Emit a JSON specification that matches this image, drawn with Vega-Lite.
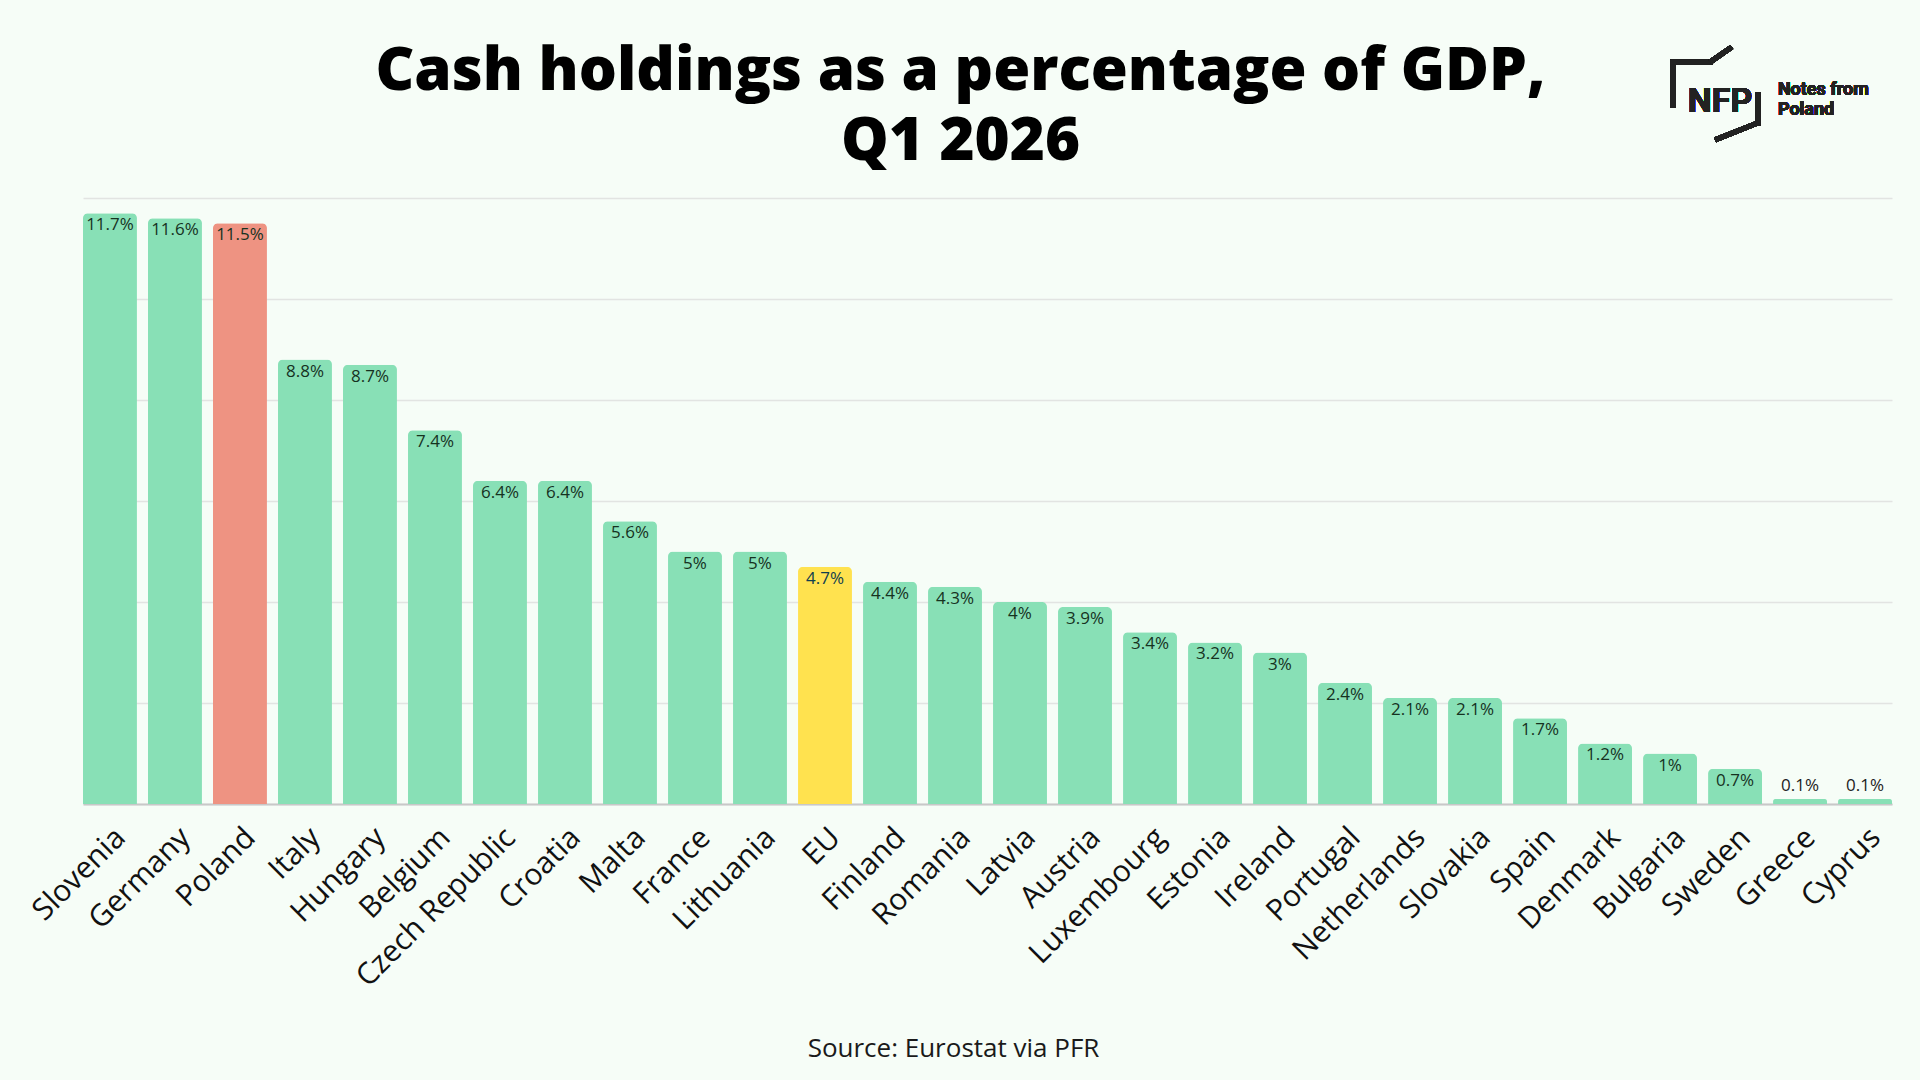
{
  "$schema": "https://vega.github.io/schema/vega-lite/v6.json",
  "width": 1809,
  "height": 606,
  "autosize": {"type": "none"},
  "padding": {"left": 83, "top": 198, "right": 28, "bottom": 276},
  "background": "#f6fdf7",
  "config": {"view": {"stroke": null}, "font": "Open Sans"},
  "title": {
    "text": ["Cash holdings as a percentage of GDP,", "Q1 2026"],
    "font": "Open Sans",
    "fontWeight": 800,
    "fontSize": 60,
    "lineHeight": 70,
    "color": "#000000",
    "anchor": "middle",
    "frame": "group",
    "dx": -27,
    "offset": -128
  },
  "data": {
    "values": [
      {"country": "Slovenia", "value": 11.7, "label": "11.7%", "group": "Other"},
      {"country": "Germany", "value": 11.6, "label": "11.6%", "group": "Other"},
      {"country": "Poland", "value": 11.5, "label": "11.5%", "group": "Poland"},
      {"country": "Italy", "value": 8.8, "label": "8.8%", "group": "Other"},
      {"country": "Hungary", "value": 8.7, "label": "8.7%", "group": "Other"},
      {"country": "Belgium", "value": 7.4, "label": "7.4%", "group": "Other"},
      {"country": "Czech Republic", "value": 6.4, "label": "6.4%", "group": "Other"},
      {"country": "Croatia", "value": 6.4, "label": "6.4%", "group": "Other"},
      {"country": "Malta", "value": 5.6, "label": "5.6%", "group": "Other"},
      {"country": "France", "value": 5, "label": "5%", "group": "Other"},
      {"country": "Lithuania", "value": 5, "label": "5%", "group": "Other"},
      {"country": "EU", "value": 4.7, "label": "4.7%", "group": "EU"},
      {"country": "Finland", "value": 4.4, "label": "4.4%", "group": "Other"},
      {"country": "Romania", "value": 4.3, "label": "4.3%", "group": "Other"},
      {"country": "Latvia", "value": 4, "label": "4%", "group": "Other"},
      {"country": "Austria", "value": 3.9, "label": "3.9%", "group": "Other"},
      {"country": "Luxembourg", "value": 3.4, "label": "3.4%", "group": "Other"},
      {"country": "Estonia", "value": 3.2, "label": "3.2%", "group": "Other"},
      {"country": "Ireland", "value": 3, "label": "3%", "group": "Other"},
      {"country": "Portugal", "value": 2.4, "label": "2.4%", "group": "Other"},
      {"country": "Netherlands", "value": 2.1, "label": "2.1%", "group": "Other"},
      {"country": "Slovakia", "value": 2.1, "label": "2.1%", "group": "Other"},
      {"country": "Spain", "value": 1.7, "label": "1.7%", "group": "Other"},
      {"country": "Denmark", "value": 1.2, "label": "1.2%", "group": "Other"},
      {"country": "Bulgaria", "value": 1, "label": "1%", "group": "Other"},
      {"country": "Sweden", "value": 0.7, "label": "0.7%", "group": "Other"},
      {"country": "Greece", "value": 0.1, "label": "0.1%", "group": "Other"},
      {"country": "Cyprus", "value": 0.1, "label": "0.1%", "group": "Other"}
    ]
  },
  "encoding": {
    "x": {
      "field": "country",
      "type": "nominal",
      "sort": null,
      "scale": {"paddingInner": 0.17, "paddingOuter": 0},
      "axis": {
        "title": "Source: Eurostat via PFR",
        "titleFont": "Open Sans",
        "titleFontSize": 26,
        "titleFontWeight": "normal",
        "titleColor": "#1a1a1a",
        "titleX": 870,
        "titlePadding": 44,
        "labelAngle": -45,
        "labelFont": "Open Sans",
        "labelFontSize": 30,
        "labelColor": "#111111",
        "labelPadding": 18,
        "labelLimit": 0,
        "ticks": false,
        "domainColor": "#c8c8c8",
        "domainWidth": 2,
        "grid": false
      }
    }
  },
  "layer": [
    {
      "mark": {"type": "bar", "cornerRadiusTopLeft": 5, "cornerRadiusTopRight": 5},
      "encoding": {
        "y": {
          "field": "value",
          "type": "quantitative",
          "scale": {"domain": [0, 12], "nice": false},
          "axis": {
            "title": null,
            "labels": false,
            "ticks": false,
            "domain": false,
            "grid": true,
            "gridColor": "#e2e4e2",
            "gridWidth": 1.5,
            "values": [0, 2, 4, 6, 8, 10, 12]
          }
        },
        "color": {
          "field": "group",
          "type": "nominal",
          "scale": {"domain": ["Other", "Poland", "EU"], "range": ["#88e0b6", "#ee9382", "#ffe24f"]},
          "legend": null
        }
      }
    },
    {
      "transform": [{"filter": "datum.value >= 0.5"}],
      "mark": {"type": "text", "baseline": "top", "dy": 4, "fontSize": 17, "font": "Open Sans"},
      "encoding": {
        "y": {"field": "value", "type": "quantitative", "scale": {"domain": [0, 12], "nice": false}},
        "text": {"field": "label"},
        "color": {"condition": {"test": "datum.country === 'EU'", "value": "#0f3f4f"}, "value": "#16321f"}
      }
    },
    {
      "transform": [{"filter": "datum.value < 0.5"}],
      "mark": {"type": "text", "baseline": "bottom", "dy": -4, "fontSize": 17, "font": "Open Sans", "color": "#222222"},
      "encoding": {
        "y": {"field": "value", "type": "quantitative", "scale": {"domain": [0, 12], "nice": false}},
        "text": {"field": "label"}
      }
    },
    {
      "mark": {"type": "text", "align": "left", "baseline": "alphabetic", "fontSize": 34, "font": "Roboto", "fontWeight": "bold", "color": "#222222"},
      "encoding": {
        "x": {"datum": "Bulgaria", "type": "nominal", "bandPosition": 0.83},
        "y": {"datum": 13.7, "type": "quantitative", "scale": {"domain": [0, 12], "nice": false}},
        "text": {"value": "NFP"}
      }
    },
    {
      "mark": {"type": "text", "align": "left", "baseline": "alphabetic", "fontSize": 18, "font": "Roboto", "fontWeight": "bold", "color": "#222222", "lineHeight": 20},
      "encoding": {
        "x": {"datum": "Greece", "type": "nominal", "bandPosition": 0.09},
        "y": {"datum": 14.04, "type": "quantitative", "scale": {"domain": [0, 12], "nice": false}},
        "text": {"value": ["Notes from", "Poland"]}
      }
    },
    {
      "mark": {"type": "rule", "strokeWidth": 5, "color": "#222222", "strokeCap": "square"},
      "encoding": {
        "x": {"datum": "Bulgaria", "type": "nominal", "bandPosition": 0.556},
        "y": {"datum": 14.69, "type": "quantitative", "scale": {"domain": [0, 12], "nice": false}},
        "y2": {"datum": 13.84}
      }
    },
    {
      "mark": {"type": "rule", "strokeWidth": 5, "color": "#222222", "strokeCap": "square"},
      "encoding": {
        "x": {"datum": "Bulgaria", "type": "nominal", "bandPosition": 0.556},
        "x2": {"datum": "Sweden", "bandPosition": 0.037},
        "y": {"datum": 14.69, "type": "quantitative", "scale": {"domain": [0, 12], "nice": false}}
      }
    },
    {
      "mark": {"type": "rule", "strokeWidth": 5, "color": "#222222", "strokeCap": "butt"},
      "encoding": {
        "x": {"datum": "Sweden", "type": "nominal", "bandPosition": 0.037},
        "x2": {"datum": "Sweden", "bandPosition": 0.44},
        "y": {"datum": 14.69, "type": "quantitative", "scale": {"domain": [0, 12], "nice": false}},
        "y2": {"datum": 14.99}
      }
    },
    {
      "mark": {"type": "rule", "strokeWidth": 5, "color": "#222222", "strokeCap": "square"},
      "encoding": {
        "x": {"datum": "Sweden", "type": "nominal", "bandPosition": 0.93},
        "y": {"datum": 14.04, "type": "quantitative", "scale": {"domain": [0, 12], "nice": false}},
        "y2": {"datum": 13.49}
      }
    },
    {
      "mark": {"type": "rule", "strokeWidth": 5, "color": "#222222", "strokeCap": "butt"},
      "encoding": {
        "x": {"datum": "Sweden", "type": "nominal", "bandPosition": 0.93},
        "x2": {"datum": "Sweden", "bandPosition": 0.13},
        "y": {"datum": 13.49, "type": "quantitative", "scale": {"domain": [0, 12], "nice": false}},
        "y2": {"datum": 13.15}
      }
    }
  ]
}
